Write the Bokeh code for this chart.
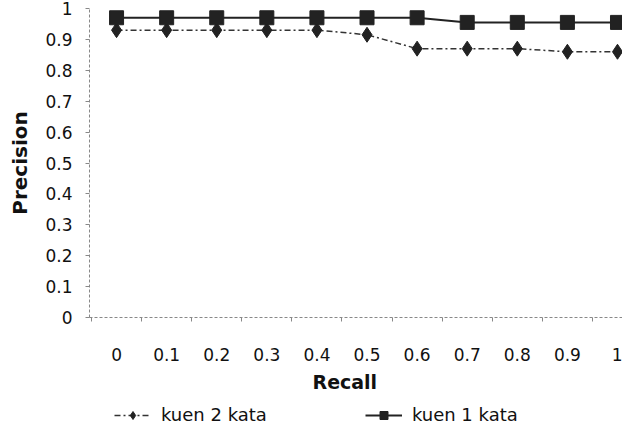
from bokeh.plotting import figure
from bokeh.models import FixedTicker, Legend, LegendItem, Range1d, Title
from bokeh.layouts import column
from bokeh.embed import file_html
from bokeh.resources import INLINE

recall = [0.0, 0.1, 0.2, 0.3, 0.4, 0.5, 0.6, 0.7, 0.8, 0.9, 1.0]
kuen_2_kata = [0.93, 0.93, 0.93, 0.93, 0.93, 0.915, 0.87, 0.87, 0.87, 0.86, 0.86]
kuen_1_kata = [0.97, 0.97, 0.97, 0.97, 0.97, 0.97, 0.97, 0.955, 0.955, 0.955, 0.955]
x_tick_labels = ["0", "0.1", "0.2", "0.3", "0.4", "0.5", "0.6", "0.7", "0.8", "0.9", "1"]
y_ticks = [0.0, 0.1, 0.2, 0.3, 0.4, 0.5, 0.6, 0.7, 0.8, 0.9, 1.0]
y_tick_labels = ["0", "0.1", "0.2", "0.3", "0.4", "0.5", "0.6", "0.7", "0.8", "0.9", "1"]
series_names = ["kuen 2 kata", "kuen 1 kata"]

FONT = "DejaVu Sans"
INK = "#111111"

p = figure(width=622, height=368, output_backend="svg", toolbar_location=None,
           x_range=Range1d(-0.054, 1.01), y_range=Range1d(0, 1),
           min_border_left=89, min_border_right=0, min_border_top=8, min_border_bottom=51)
p.outline_line_color = None
p.xgrid.grid_line_color = None
p.ygrid.grid_line_color = None

line2 = dict(line_color="#333333", line_width=1.5, line_dash="6 3 2 3")
mark2 = dict(marker="diamond", size=15, fill_color="#222222", line_color="#222222")
line1 = dict(line_color="#222222", line_width=2)
mark1 = dict(marker="square", size=14, fill_color="#222222", line_color="#222222")

p.line(recall, kuen_2_kata, **line2)
p.scatter(recall, kuen_2_kata, **mark2)
p.line(recall, kuen_1_kata, **line1)
p.scatter(recall, kuen_1_kata, **mark1)

# x axis
p.xaxis.ticker = FixedTicker(ticks=recall, minor_ticks=[v - 0.05 for v in recall] + [1.05])
p.xaxis.major_label_overrides = {v: l for v, l in zip(recall, x_tick_labels)}
p.xaxis.major_tick_line_color = None
p.xaxis.minor_tick_out = 4
p.xaxis.minor_tick_in = 0
p.xaxis.minor_tick_line_color = "#888888"
p.xaxis.axis_line_color = "#888888"
p.xaxis.axis_line_dash = "3 2"
p.xaxis.major_label_text_font = FONT
p.xaxis.major_label_text_font_size = "17px"
p.xaxis.major_label_text_color = INK
p.xaxis.major_label_standoff = 24

# y axis
p.yaxis.ticker = FixedTicker(ticks=y_ticks, minor_ticks=[])
p.yaxis.major_label_overrides = {v: l for v, l in zip(y_ticks, y_tick_labels)}
p.yaxis.major_tick_out = 4
p.yaxis.major_tick_in = 0
p.yaxis.major_tick_line_color = "#888888"
p.yaxis.axis_line_color = "#888888"
p.yaxis.axis_line_dash = "3 2"
p.yaxis.major_label_text_font = FONT
p.yaxis.major_label_text_font_size = "17px"
p.yaxis.major_label_text_color = INK
p.yaxis.major_label_standoff = 13
p.yaxis.axis_label = "Precision"
p.yaxis.axis_label_text_font = FONT
p.yaxis.axis_label_text_font_style = "bold"
p.yaxis.axis_label_text_font_size = "20px"
p.yaxis.axis_label_text_color = INK
p.yaxis.axis_label_standoff = 10

# strip below the chart: x-axis title and legend (series drawn off-view so only the legend shows)
lg = figure(width=622, height=57, output_backend="svg", toolbar_location=None,
            x_range=Range1d(0, 1), y_range=Range1d(10, 11),
            x_axis_location=None, y_axis_location=None,
            min_border_left=0, min_border_right=0, min_border_top=10, min_border_bottom=0)
lg.outline_line_color = None
lg.xgrid.grid_line_color = None
lg.ygrid.grid_line_color = None
xtitle = Title(text="Recall", align="left", offset=223, standoff=0,
               text_font=FONT, text_font_style="bold", text_font_size="19px", text_color=INK)
lg.add_layout(xtitle, "above")
l2 = lg.line(recall, kuen_2_kata, **line2)
m2 = lg.scatter(recall, kuen_2_kata, **mark2)
l1 = lg.line(recall, kuen_1_kata, **line1)
m1 = lg.scatter(recall, kuen_1_kata, **mark1)
legend = Legend(items=[LegendItem(label=series_names[0], renderers=[l2, m2]),
                       LegendItem(label=series_names[1], renderers=[l1, m1])],
                orientation="horizontal", location=(25, 0),
                label_text_font=FONT, label_text_font_size="18px", label_text_color=INK,
                glyph_width=37, glyph_height=20, label_standoff=10, spacing=98,
                padding=0, margin=0, border_line_color=None, background_fill_alpha=0)
lg.add_layout(legend, "center")

layout = column(p, lg, spacing=0)
open("out.html", "w").write(file_html(layout, INLINE))
